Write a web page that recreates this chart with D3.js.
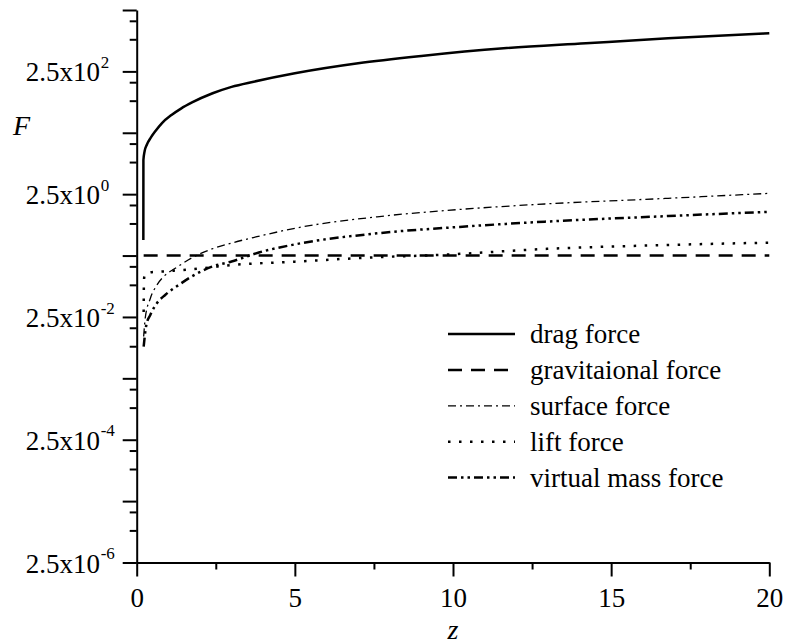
<!DOCTYPE html>
<html>
<head>
<meta charset="utf-8">
<script src="https://cdn.jsdelivr.net/npm/d3@7"></script>
<style>
  body { margin: 0; background: #fff; }
  svg text { font-family: "Liberation Serif", "Times New Roman", "DejaVu Serif", serif; fill: #000; }
</style>
</head>
<body>
<svg id="chart" width="787" height="644"></svg>
<script>
// values
var dragZ = [0.21, 0.212, 0.25, 0.32, 0.45, 0.6, 0.8, 1.1, 1.4, 1.75, 2.4, 3.0, 3.7, 5.0, 7.0, 9.0, 11.6, 14.2, 16.8, 20];
var dragF = [0.45, 9.0, 12.5, 16, 21, 27, 36, 48.7, 62, 78, 110, 140, 170, 233, 339, 446, 594, 718, 865, 1043];

var gravZ = [0.22, 20];
var gravF = [0.25, 0.25];

var surfZ = [0.22, 0.27, 0.43, 0.64, 0.9, 1.22, 1.75, 2.38, 3.0, 3.8, 5.0, 7.6, 10.3, 12.9, 16.8, 20];
var surfF = [0.012, 0.024, 0.05, 0.083, 0.12, 0.155, 0.231, 0.32, 0.40, 0.507, 0.695, 1.07, 1.42, 1.73, 2.14, 2.58];

var liftZ = [0.22, 0.23, 0.26, 0.43, 0.85, 1.73, 3.0, 5.0, 7.6, 9.5, 12.9, 16.8, 20];
var liftF = [0.03, 0.1, 0.125, 0.133, 0.138, 0.149, 0.175, 0.199, 0.235, 0.255, 0.32, 0.372, 0.406];

var vmZ = [0.22, 0.3, 0.43, 0.64, 0.9, 1.33, 1.75, 2.38, 3.0, 3.86, 5.0, 7.6, 10.3, 12.9, 16.8, 20];
var vmF = [0.0082, 0.018, 0.027, 0.042, 0.057, 0.083, 0.115, 0.165, 0.2, 0.28, 0.38, 0.575, 0.738, 0.891, 1.10, 1.29];

var seriesNames = ["drag force", "gravitaional force", "surface force", "lift force", "virtual mass force"];

var xTicks = [0, 5, 10, 15, 20];
var xMinor = [2.5, 7.5, 12.5, 17.5];
var yExp = [-6, -5, -4, -3, -2, -1, 0, 1, 2, 3];     // majors at 2.5x10^k
var yLabelExp = [-6, -4, -2, 0, 2];

var margin = {top: 10, left: 136.7};
var width = 632.6, height = 552.5;

var svg = d3.select("#chart");
var g = svg.append("g").attr("transform", "translate(" + margin.left + "," + margin.top + ")");

var x = d3.scaleLinear().domain([0, 20]).range([0, width]);
var y = d3.scaleLog().domain([2.5e-6, 2.5e3]).range([height, 0]);

// y axis: majors, then minors at a third and two thirds of each major
var yMajor = yExp.map(function(k){ return 2.5 * Math.pow(10, k); });
var yMinor = [];
yMajor.forEach(function(m){
    if (m / 3 >= 2.5e-6) { yMinor.push(m / 1.5); yMinor.push(m / 3); }
});

function styleAxis(sel){
    sel.attr("font-family", null);
    sel.select(".domain").attr("stroke", "#000").attr("stroke-width", 2);
    sel.selectAll(".tick line").attr("stroke", "#000").attr("stroke-width", 2);
}

g.append("g")
    .call(d3.axisLeft(y).tickValues(yMajor).tickSize(14).tickSizeOuter(0).tickFormat(""))
    .call(styleAxis)
    .selectAll(".tick text").remove();
g.append("g")
    .call(d3.axisLeft(y).tickValues(yMinor).tickSize(7).tickSizeOuter(0).tickFormat(""))
    .call(styleAxis)
    .call(function(sel){ sel.select(".domain").remove(); sel.selectAll(".tick text").remove(); });

g.append("g")
    .attr("transform", "translate(0," + height + ")")
    .call(d3.axisBottom(x).tickValues(xTicks).tickSize(14).tickSizeOuter(0))
    .call(styleAxis)
    .selectAll(".tick text")
    .attr("y", 44.5).attr("dy", null)
    .attr("font-size", "27px");
g.append("g")
    .attr("transform", "translate(0," + height + ")")
    .call(d3.axisBottom(x).tickValues(xMinor).tickSize(7).tickSizeOuter(0).tickFormat(""))
    .call(styleAxis)
    .call(function(sel){ sel.select(".domain").remove(); sel.selectAll(".tick text").remove(); });

// y tick labels 2.5x10^k
yLabelExp.forEach(function(k){
    var yy = y(2.5 * Math.pow(10, k));
    g.append("text")
	.attr("x", -36.7).attr("y", yy + 10)
	.attr("text-anchor", "end")
	.attr("font-size", "27px")
	.text("2.5x10");
    g.append("text")
	.attr("x", -36).attr("y", yy - 3.4)
	.attr("font-size", "17px")
	.text(k < 0 ? "-" + (-k) : String(k));
});

// axis titles
svg.append("text")
    .attr("x", 13).attr("y", 135)
    .attr("font-size", "28px").attr("font-style", "italic")
    .text("F");
svg.append("text")
    .attr("x", margin.left + width / 2).attr("y", 639)
    .attr("text-anchor", "middle")
    .attr("font-size", "28px").attr("font-style", "italic")
    .text("z");

// series
var styles = [
    {w: 2.5, dash: null},
    {w: 2.5, dash: "14,9"},
    {w: 1.3, dash: "8,4,2,4"},
    {w: 2.5, dash: "2.5,8.5"},
    {w: 2.5, dash: "9,4,2.5,4,2.5,4"}
];
var series = [
    d3.zip(dragZ, dragF),
    d3.zip(gravZ, gravF),
    d3.zip(surfZ, surfF),
    d3.zip(liftZ, liftF),
    d3.zip(vmZ, vmF)
];

var line = d3.line()
    .x(function(d){ return x(d[0]); })
    .y(function(d){ return y(d[1]); })
    .curve(d3.curveMonotoneX);

series.forEach(function(s, i){
    g.append("path")
	.datum(s)
	.attr("d", line)
	.attr("fill", "none")
	.attr("stroke", "#000")
	.attr("stroke-width", styles[i].w)
	.attr("stroke-linejoin", "round")
	.attr("stroke-dasharray", styles[i].dash);
});

// legend
var legend = svg.append("g").attr("transform", "translate(448,343.3)");
seriesNames.forEach(function(name, i){
    var row = legend.append("g").attr("transform", "translate(0," + (i * 35.9) + ")");
    row.append("line")
	.attr("x1", 0).attr("x2", 67)
	.attr("y1", -9.3).attr("y2", -9.3)
	.attr("stroke", "#000")
	.attr("stroke-width", styles[i].w)
	.attr("stroke-dasharray", styles[i].dash);
    row.append("text")
	.attr("x", 82).attr("y", 0)
	.attr("font-size", "27px")
	.text(name);
});
</script>
</body>
</html>
